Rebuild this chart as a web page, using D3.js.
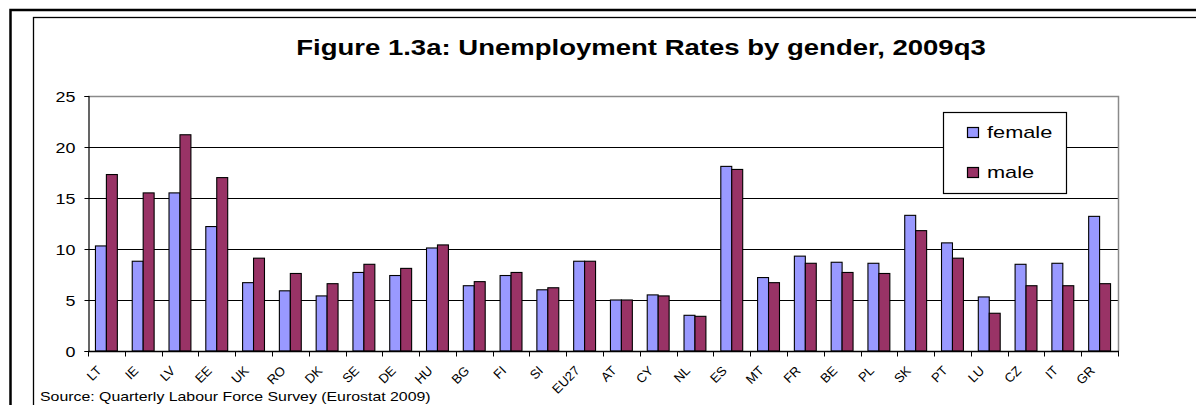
<!DOCTYPE html>
<html>
<head>
<meta charset="utf-8">
<script src="https://cdn.jsdelivr.net/npm/d3@7"></script>
<style>
  body { margin: 0; background: #fff; }
  text { font-family: "Liberation Sans", Arial, sans-serif; fill: #000; }
</style>
</head>
<body>
<svg id="chart" width="1196" height="405"></svg>
<script>
// Unemployment rates (%) by gender, 2009q3
const countries = ["LT","IE","LV","EE","UK","RO","DK","SE","DE","HU","BG","FI","SI","EU27",
                   "AT","CY","NL","ES","MT","FR","BE","PL","SK","PT","LU","CZ","IT","GR"];
const female = [10.3, 8.8, 15.5, 12.2, 6.7, 5.9, 5.4, 7.7, 7.4, 10.1, 6.4, 7.4, 6.0, 8.8,
                5.0, 5.5, 3.5, 18.1, 7.2, 9.3, 8.7, 8.6, 13.3, 10.6, 5.3, 8.5, 8.6, 13.2];
const male   = [17.3, 15.5, 21.2, 17.0, 9.1, 7.6, 6.6, 8.5, 8.1, 10.4, 6.8, 7.7, 6.2, 8.8,
                5.0, 5.4, 3.4, 17.8, 6.7, 8.6, 7.7, 7.6, 11.8, 9.1, 3.7, 6.4, 6.4, 6.6];
const seriesNames = ["female", "male"];
const seriesColors = ["#9999FF", "#993366"];
const yTicks = [0, 5, 10, 15, 20, 25];
const titleText = "Figure 1.3a: Unemployment Rates by gender, 2009q3";
const sourceText = "Source: Quarterly Labour Force Survey (Eurostat 2009)";

const svg = d3.select("#chart");
const stretch = 1.28; // text in this figure is drawn horizontally widened

// Outer frames
svg.append("rect").attr("x", 10.5).attr("y", 10).attr("width", 1300).attr("height", 500)
  .attr("fill", "none").attr("stroke", "#000").attr("stroke-width", 2.5);
svg.append("rect").attr("x", 33.5).attr("y", 17.5).attr("width", 1300).attr("height", 500)
  .attr("fill", "none").attr("stroke", "#000").attr("stroke-width", 1.3);

const plot = { left: 88, right: 1118, top: 96, bottom: 351 };

const x0 = d3.scaleBand().domain(countries).range([plot.left, plot.right]).paddingInner(0).paddingOuter(0);
const x1 = d3.scaleBand().domain(seriesNames).range([0, x0.bandwidth()]).paddingInner(0).paddingOuter(0.68);
const y = d3.scaleLinear().domain([0, 25]).range([plot.bottom, plot.top]);

function wideText(sel, x, yy) {
  return sel.attr("transform", `translate(${x},${yy}) scale(${stretch},1)`);
}

// Gridlines
svg.append("g").selectAll("line").data(yTicks.filter(t => t > 0 && t < 25)).join("line")
  .attr("x1", plot.left).attr("x2", plot.right)
  .attr("y1", d => Math.round(y(d)) + 0.5).attr("y2", d => Math.round(y(d)) + 0.5)
  .attr("stroke", "#000").attr("stroke-width", 1);

// Plot area border (top and right)
svg.append("path")
  .attr("d", `M${plot.left},${plot.top + 0.5}H${plot.right + 0.5}V${plot.bottom}`)
  .attr("fill", "none").attr("stroke", "#8a8a8a").attr("stroke-width", 1.5);

// Bars
const groups = svg.append("g").selectAll("g").data(countries).join("g")
  .attr("transform", d => `translate(${x0(d)},0)`);
groups.selectAll("rect")
  .data((d, i) => [
    { key: "female", value: female[i] },
    { key: "male", value: male[i] }
  ])
  .join("rect")
  .attr("x", d => x1(d.key))
  .attr("width", x1.bandwidth())
  .attr("y", d => y(d.value))
  .attr("height", d => y(0) - y(d.value))
  .attr("fill", (d, i) => seriesColors[i])
  .attr("stroke", "#000").attr("stroke-width", 1.1);

// Y axis
const yAxis = svg.append("g").attr("transform", `translate(${plot.left + 0.5},0)`)
  .call(d3.axisLeft(y).tickValues(yTicks).tickSize(4).tickFormat(d3.format("d")));
yAxis.select(".domain").attr("stroke", "#000").attr("stroke-width", 1.2);
yAxis.selectAll(".tick line").attr("stroke", "#000");
yAxis.selectAll(".tick text").each(function () {
  const t = d3.select(this);
  t.attr("x", null).attr("dy", null).attr("text-anchor", "end")
    .attr("font-size", 14).attr("font-family", "Liberation Sans, Arial, sans-serif")
    .attr("transform", `translate(-13,5) scale(${stretch},1)`);
});

// X axis with boundary ticks
const xAxisG = svg.append("g").attr("transform", `translate(0,${plot.bottom + 0.5})`);
xAxisG.append("line").attr("x1", plot.left).attr("x2", plot.right + 1)
  .attr("stroke", "#000").attr("stroke-width", 1.3);
const boundaries = countries.map(c => x0(c)).concat([plot.right]);
xAxisG.selectAll("line.tk").data(boundaries).join("line").attr("class", "tk")
  .attr("x1", d => Math.round(d) + 0.5).attr("x2", d => Math.round(d) + 0.5)
  .attr("y1", 0).attr("y2", 5).attr("stroke", "#000");
xAxisG.selectAll("text").data(countries).join("text")
  .attr("text-anchor", "end")
  .attr("font-size", 13)
  .attr("transform", d => `translate(${x0(d) + x0.bandwidth() / 2 - 4},${20}) rotate(-45)`)
  .text(d => d);

// Title
wideText(svg.append("text"), 641, 55).attr("text-anchor", "middle")
  .attr("font-size", 21.5).attr("font-weight", "bold").text(titleText);

// Source note
wideText(svg.append("text"), 40, 401).attr("font-size", 12.4).text(sourceText);

// Legend
const lg = svg.append("g");
lg.append("rect").attr("x", 943.5).attr("y", 112.5).attr("width", 123).attr("height", 81)
  .attr("fill", "#fff").attr("stroke", "#000").attr("stroke-width", 1.2);
seriesNames.forEach((name, i) => {
  const cy = 132 + i * 40;
  lg.append("rect").attr("x", 967.5).attr("y", cy - 4.5).attr("width", 11).attr("height", 10)
    .attr("fill", seriesColors[i]).attr("stroke", "#000").attr("stroke-width", 1.2);
  wideText(lg.append("text"), 987, cy + 6).attr("font-size", 17).text(name);
});
</script>
</body>
</html>
